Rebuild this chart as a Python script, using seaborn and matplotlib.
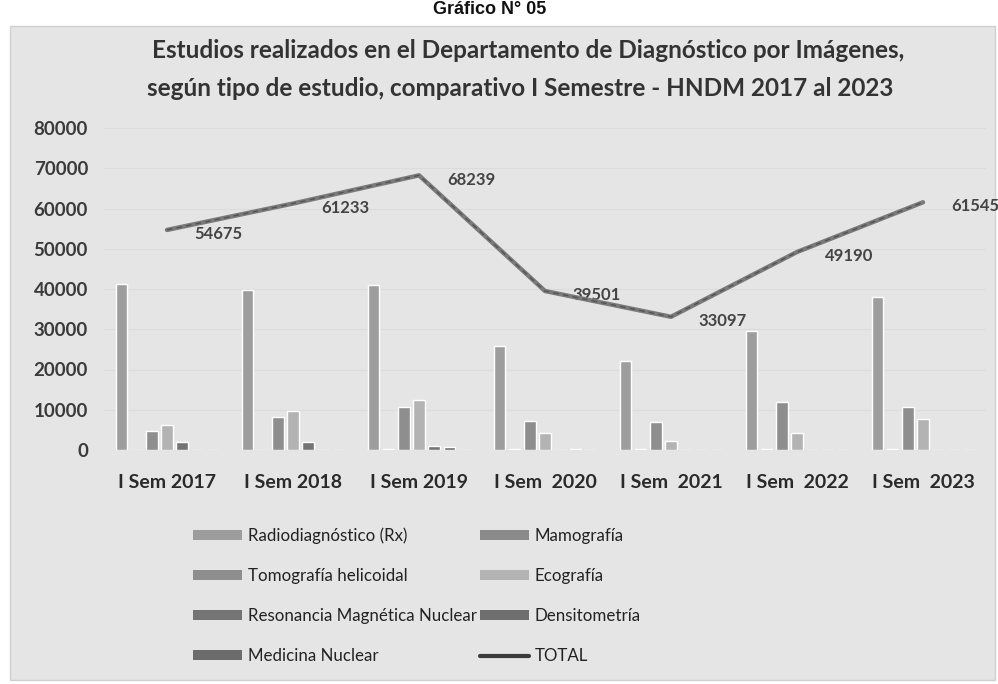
import matplotlib
matplotlib.use("Agg")
import matplotlib.pyplot as plt
from matplotlib.patches import Rectangle, Patch
from matplotlib.lines import Line2D
import seaborn as sns
import pandas as pd
import numpy as np

categories = ["I Sem 2017", "I Sem 2018", "I Sem 2019", "I Sem  2020",
              "I Sem  2021", "I Sem  2022", "I Sem  2023"]
series = ["Radiodiagnóstico (Rx)", "Mamografía", "Tomografía helicoidal",
          "Ecografía", "Resonancia Magnética Nuclear", "Densitometría",
          "Medicina Nuclear"]
rx = [41200, 39700, 41000, 25900, 22200, 29600, 38100]
mamografia = [0, 0, 300, 300, 300, 300, 300]
tomografia = [4700, 8300, 10700, 7200, 6900, 11900, 10700]
ecografia = [6200, 9800, 12300, 4100, 2300, 4100, 7700]
resonancia = [1900, 2000, 900, 0, 0, 0, 0]
densitometria = [0, 0, 700, 200, 0, 0, 0]
medicina_nuclear = [0, 0, 0, 0, 0, 0, 0]
total = [54675, 61233, 68239, 39501, 33097, 49190, 61545]

colors = ["#9d9d9d", "#8a8a8a", "#8e8e8e", "#b3b3b3", "#747474", "#6f6f6f", "#6c6c6c"]

vals = [rx, mamografia, tomografia, ecografia, resonancia, densitometria, medicina_nuclear]
rows = []
for s, v in zip(series, vals):
    for c, x in zip(categories, v):
        rows.append({"cat": c, "serie": s, "valor": x})
df = pd.DataFrame(rows)

sns.set_theme(style="white")
plt.rcParams['font.family'] = ['Lato', 'DejaVu Sans']

fig = plt.figure(figsize=(9.98, 6.84), dpi=100)
fig.patch.set_facecolor("white")
W, H = 998, 684
fig.patches.append(Rectangle((10 / W, 4 / H), 985 / W, (H - 26 - 4) / H,
                             transform=fig.transFigure, facecolor="#e5e5e5",
                             edgecolor="#d0d0d0", lw=1, zorder=-10))

ax = fig.add_axes([104 / W, 1 - 450 / H, 882 / W, (450 - 128) / H])
ax.set_facecolor("none")
ax.set_zorder(2)

sns.barplot(data=df, x="cat", y="valor", hue="serie", hue_order=series,
            order=categories, palette=colors, width=0.84, gap=0.25,
            saturation=1, ax=ax, legend=False, errorbar=None)

x = np.arange(len(categories))
sns.lineplot(x=x, y=total, ax=ax, color="#7a7a7a", lw=3.2, legend=False, zorder=5)
ax.plot(x, total, color="#3a3a3a", lw=1.0, ls=(0, (4, 3)), zorder=6, alpha=0.6)

for i, t in enumerate(total):
    ax.annotate(f"{t}", xy=(i, t), xytext=(20, -3), textcoords="offset points",
                ha="left", va="center", fontsize=12, fontweight="bold", color="#444444")

ax.set_ylim(0, 80000)
ax.set_xlim(-0.5, 6.5)
ax.set_yticks(range(0, 80001, 10000))
ax.set_yticklabels([str(v) for v in range(0, 80001, 10000)])
ax.yaxis.grid(True, color="#dcdcdc", lw=0.8)
ax.set_axisbelow(True)
for sp in ax.spines.values():
    sp.set_visible(False)
ax.tick_params(axis="y", pad=11.5, labelsize=13.5, labelcolor="#3a3a3a", length=0)
ax.tick_params(axis="x", pad=17, labelsize=14, labelcolor="#2a2a2a", length=0)
for lab in ax.get_yticklabels() + ax.get_xticklabels():
    lab.set_fontweight("bold")
ax.set_xlabel("")
ax.set_ylabel("")

fig.text(490 / W, 1 - 9 / H, "Gráfico N° 05", ha="center", va="center",
         fontsize=13, fontweight="bold", family=["Liberation Sans"], color="#111111")
fig.text(528 / W, 1 - 50 / H,
         "Estudios realizados en el Departamento de Diagnóstico por Imágenes,",
         ha="center", va="center", fontsize=17.5, fontweight="bold", color="#333333")
fig.text(520 / W, 1 - 88 / H,
         "según tipo de estudio, comparativo I Semestre - HNDM 2017 al 2023",
         ha="center", va="center", fontsize=17.5, fontweight="bold", color="#333333")

handles = []
order_leg = [0, 2, 4, 6, 1, 3, 5]
for k in order_leg:
    handles.append(Patch(facecolor=colors[k], edgecolor="none", label=series[k]))
handles.append(Line2D([0], [0], color="#3a3a3a", lw=3, label="TOTAL"))
leg = fig.legend(handles=handles, ncol=2, loc="upper left",
                 bbox_to_anchor=(178 / W, 1 - 512 / H), frameon=False,
                 fontsize=12.2, handlelength=2.9, handleheight=0.5,
                 labelspacing=1.42, columnspacing=0.15, handletextpad=0.35)
for t in leg.get_texts():
    t.set_color("#222222")

fig.savefig("out.png", dpi=100, facecolor=fig.get_facecolor())
